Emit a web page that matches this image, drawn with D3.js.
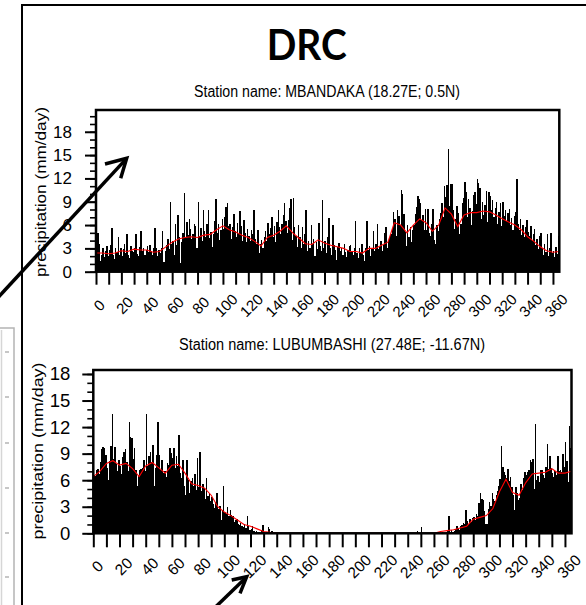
<!DOCTYPE html>
<html>
<head>
<meta charset="utf-8">
<script src="https://cdn.jsdelivr.net/npm/d3@7"></script>
<style>
  html, body { margin: 0; padding: 0; background: #fff; }
  svg { display: block; }
</style>
</head>
<body>
<div id="chart"></div>
<script>
// Daily precipitation (mm/day), one value per day 0..364
const mbandakaRain = [
  3.8, 5.0, 3.5, 1.4, 2.2, 3.0, 1.9, 2.6, 3.3, 2.0,
  2.8, 3.4, 5.6, 2.1, 1.6, 3.0, 2.5, 4.4, 2.2, 3.1,
  2.0, 2.9, 3.6, 2.4, 4.9, 2.2, 1.8, 3.3, 2.7, 2.5,
  3.1, 4.8, 2.3, 2.0, 3.2, 5.2, 2.6, 3.0, 2.2, 2.8,
  3.3, 2.5, 3.4, 2.6, 2.2, 3.0, 5.6, 3.1, 2.0, 2.8,
  2.4, 3.1, 5.2, 1.2, 2.6, 3.4, 4.2, 2.9, 9.0, 3.6,
  4.0, 2.2, 6.1, 3.4, 7.3, 4.4, 1.1, 3.8, 5.0, 10.1,
  4.5, 6.4, 4.7, 6.8, 5.5, 4.2, 4.8, 6.1, 5.9, 3.0,
  9.0, 4.6, 5.6, 4.0, 8.0, 5.2, 4.4, 6.2, 8.0, 4.3,
  5.1, 3.2, 4.8, 6.5, 9.3, 5.0, 6.2, 4.1, 5.4, 6.8,
  5.5, 7.0, 8.3, 8.8, 5.9, 6.1, 4.2, 5.7, 7.4, 5.2,
  4.5, 6.3, 4.8, 7.8, 5.9, 4.0, 6.6, 5.0, 3.8, 5.5,
  4.6, 3.9, 5.4, 4.9, 8.0, 4.2, 3.6, 5.3, 2.4, 3.5,
  4.1, 3.0, 4.5, 5.2, 3.9, 6.3, 4.8, 5.6, 7.1, 4.4,
  5.9, 3.8, 6.4, 8.0, 5.7, 4.9, 6.1, 7.3, 8.9, 6.5,
  5.0, 6.6, 8.2, 9.4, 4.1, 9.5, 5.8, 4.6, 3.2, 6.0,
  4.4, 3.0, 5.7, 3.6, 4.8, 8.0, 2.7, 4.0, 3.1, 6.0,
  3.5, 4.2, 2.0, 3.8, 2.9, 6.3, 3.3, 2.6, 9.2, 3.0,
  3.9, 2.4, 4.5, 6.9, 3.1, 2.2, 6.0, 3.4, 2.8, 1.5,
  3.2, 3.7, 2.6, 3.0, 2.2, 3.6, 2.5, 1.9, 2.8, 3.3,
  3.4, 2.7, 2.1, 3.0, 6.5, 2.4, 1.8, 3.1, 2.5, 3.5,
  2.2, 1.4, 3.0, 6.5, 2.8, 3.3, 2.0, 2.9, 5.2, 2.6,
  3.6, 6.1, 2.9, 3.2, 4.0, 2.7, 3.4, 5.0, 5.7, 3.1,
  4.0, 4.5, 4.9, 5.6, 7.7, 6.8, 4.6, 8.0, 7.2, 6.0,
  10.5, 10.0, 7.4, 5.1, 3.3, 6.0, 4.4, 5.8, 3.8, 5.4,
  6.0, 7.4, 8.3, 9.7, 9.4, 8.9, 6.6, 7.3, 5.4, 8.1,
  5.3, 8.1, 5.0, 4.6, 6.1, 8.1, 4.1, 3.6, 6.0, 5.2,
  6.8, 7.5, 8.8, 7.0, 11.0, 9.6, 11.2, 15.8, 8.5, 11.3,
  11.3, 8.0, 5.5, 6.8, 8.5, 7.6, 4.9, 6.2, 8.8, 9.5,
  11.6, 10.2, 7.1, 9.4, 8.2, 6.0, 7.8, 9.9, 10.3, 8.7,
  11.9, 11.4, 10.8, 6.8, 9.0, 7.3, 8.6, 10.4, 6.4, 10.3,
  9.8, 8.0, 9.2, 7.0, 8.2, 9.0, 6.1, 7.7, 8.9, 5.9,
  9.0, 7.2, 8.0, 6.5, 7.5, 8.1, 6.0, 6.9, 5.3, 7.2,
  7.7, 11.9, 6.2, 5.4, 6.8, 4.7, 6.0, 4.4, 5.8, 6.7,
  5.1, 4.6, 5.9, 3.9, 4.8, 5.5, 3.4, 4.2, 2.9, 4.6,
  5.0, 3.0, 2.2, 3.6, 2.5, 4.9, 2.0, 3.1, 5.0, 2.4,
  2.6, 1.9, 3.2, 2.3, 4.6
];

const lubumbashiRain = [
  6.6, 6.5, 7.1, 7.3, 6.7, 8.0, 9.5, 9.7, 9.6, 8.8,
  7.4, 6.0, 8.2, 9.9, 13.5, 8.4, 9.8, 7.8, 7.0, 8.3,
  7.6, 6.7, 8.6, 9.2, 9.5, 8.1, 7.0, 12.6, 10.9, 10.8,
  8.4, 9.6, 7.2, 5.3, 6.6, 7.1, 7.3, 7.4, 8.3, 7.0,
  13.5, 7.6, 8.7, 9.2, 8.0, 10.0, 5.3, 7.4, 8.8, 12.6,
  8.8, 7.2, 8.3, 6.8, 7.0, 6.4, 7.9, 7.7, 9.6, 9.1,
  8.5, 9.6, 7.4, 8.7, 7.6, 11.1, 6.8, 6.3, 8.3, 5.4,
  4.3, 8.3, 6.0, 4.5, 5.9, 6.2, 5.3, 6.7, 4.9, 8.5,
  5.2, 9.2, 4.8, 5.6, 5.1, 3.9, 6.2, 4.2, 4.5, 3.6,
  4.1, 3.3, 2.9, 3.5, 4.6, 2.8, 3.1, 1.5, 2.6, 5.4,
  2.4, 2.2, 3.0, 1.9, 2.6, 2.1, 2.0, 1.3, 1.5, 1.6,
  1.1, 0.9, 1.2, 0.8, 0.7, 1.0, 0.6, 2.0, 0.8, 0.4,
  0.5, 0.8, 0.3, 0.2, 0.3, 0.2, 0.1, 0, 0.4, 0.9,
  0.2, 0, 0.1, 0.7, 0.5, 0.2, 0.3, 0, 0, 0,
  0, 0, 0, 0, 0, 0, 0, 0, 0, 0,
  0, 0, 0, 0, 0, 0, 0, 0, 0, 0,
  0, 0, 0, 0, 0, 0, 0, 0, 0, 0,
  0, 0, 0, 0, 0, 0, 0, 0, 0, 0,
  0, 0, 0, 0, 0, 0, 0, 0, 0, 0,
  0, 0, 0, 0, 0, 0, 0, 0, 0, 0,
  0, 0, 0, 0, 0, 0, 0, 0, 0, 0,
  0, 0, 0, 0, 0, 0, 0, 0, 0, 0,
  0, 0, 0, 0, 0, 0, 0, 0, 0, 0,
  0, 0, 0, 0, 0, 0, 0, 0, 0, 0,
  0, 0, 0, 0, 0, 0, 0, 0.3, 0, 0,
  0.7, 0, 0, 0, 0, 0, 0, 0, 0, 0,
  0, 0, 0, 0.1, 0, 0, 0.2, 0, 0, 0.1,
  0.3, 2.0, 0.2, 0.4, 0.1, 0.3, 0.5, 0.8, 0.6, 0.4,
  0.8, 0.9, 1.2, 1.0, 2.6, 1.4, 1.1, 1.6, 1.3, 1.7,
  1.8, 1.5, 2.2, 2.0, 3.4, 4.5, 3.9, 3.8, 2.5, 1.0,
  1.0, 2.8, 3.5, 3.1, 4.5, 3.9, 3.6, 4.3, 4.8, 5.3,
  6.1, 9.9, 7.5, 6.9, 6.6, 6.3, 7.3, 5.9, 6.4, 5.2,
  4.3, 2.6, 5.2, 4.6, 3.8, 4.0, 5.6, 4.9, 6.3, 6.9,
  6.6, 6.9, 7.1, 8.3, 8.1, 8.4, 5.0, 12.4, 6.0, 6.5,
  5.8, 7.2, 7.1, 6.6, 6.2, 7.5, 10.1, 7.3, 8.7, 7.4,
  6.8, 6.4, 7.0, 6.6, 8.7, 7.0, 7.2, 6.9, 9.0, 7.5,
  10.3, 8.2, 5.8, 12.1, 9.6
];

// red smoothed climatology, sampled every 5 days (day 0, 5, ..., 365)
const meanDays = d3.range(0, 366, 5);
const mbandakaMean = [
  2.4, 2.4, 2.3, 2.4, 2.7, 2.6, 2.9, 2.8, 2.8, 2.5,
  2.6, 3.2, 3.8, 4.2, 4.4, 4.5, 4.4, 4.7, 4.8, 5.4,
  5.9, 5.4, 5.1, 4.7, 4.4, 3.9, 3.3, 4.4, 4.7, 5.2,
  5.9, 5.0, 4.3, 3.6, 3.5, 4.1, 3.7, 3.4, 3.2, 3.0,
  2.6, 2.6, 2.4, 3.0, 3.0, 3.4, 3.8, 6.3, 6.0, 5.0,
  6.0, 6.8, 6.3, 5.2, 6.0, 8.2, 7.4, 5.8, 7.3, 7.6,
  7.6, 7.8, 7.7, 7.3, 6.8, 6.4, 6.0, 5.4, 4.5, 3.9,
  3.2, 2.7, 2.5, 2.6
];
const lubumbashiMean = [
  6.4, 7.0, 7.9, 8.2, 7.7, 7.9, 7.3, 6.4, 7.6, 8.0,
  7.4, 6.8, 7.7, 7.8, 6.8, 5.6, 5.4, 5.1, 4.3, 3.0,
  2.4, 2.0, 1.5, 1.0, 0.8, 0.5, 0.2, 0.1, 0.05, 0,
  0, 0, 0, 0, 0, 0, 0, 0, 0, 0,
  0, 0, 0, 0, 0, 0, 0, 0, 0, 0,
  0, 0, 0, 0.2, 0.3, 0.4, 0.6, 0.8, 1.6, 1.8,
  2.0, 2.8, 4.7, 6.1, 4.6, 4.3, 5.7, 6.7, 6.8, 6.9,
  7.3, 6.8, 6.8, 7.0
];

const chartTitle = "DRC";
const stationNames = [
  "Station name: MBANDAKA (18.27E; 0.5N)",
  "Station name: LUBUMBASHI (27.48E; -11.67N)"
];
const yAxisLabel = "precipitation (mm/day)";
const yTickValues = [0, 3, 6, 9, 12, 15, 18];
const xTickLabels = ["0", "20", "40", "60", "80", "100", "120", "140", "160", "180",
  "200", "220", "240", "260", "280", "300", "320", "340", "360"];

const FONT = "'Liberation Sans', Arial, Helvetica, sans-serif";
const W = 586, H = 605;

// panel geometry (the two panels were pasted at slightly different scales)
const panels = [
  { rain: mbandakaRain, mean: mbandakaMean, name: stationNames[0],
    left: 96, right: 559.3, top: 110, bottom: 271.7, yMax: 20.8, minorMax: 20,
    subX: 327, subY: 96.5, subLen: 266, ylabX: 41, ylabY: 192, ylabLen: 170,
    yFont: 17, yPad: 13, xFont: 15, xTick: 13, xLabDx: 3, xLabDy: 33.5 },
  { rain: lubumbashiRain, mean: lubumbashiMean, name: stationNames[1],
    left: 93.3, right: 571.5, top: 370, bottom: 533.3, yMax: 18.45, minorMax: 18,
    subX: 332, subY: 350, subLen: 306, ylabX: 37.5, ylabY: 451, ylabLen: 177,
    yFont: 18.5, yPad: 12, xFont: 15.5, xTick: 14, xLabDx: 4, xLabDy: 33 }
];

const svg = d3.select("#chart").append("svg")
  .attr("width", W).attr("height", H)
  .style("background", "#fff");

// cropped neighbouring figure at the far left
const frag = svg.append("g").attr("stroke", "#b4b4b4").attr("fill", "none").attr("stroke-width", 1.5);
frag.append("path").attr("d", "M0,328 H14 V610");
frag.append("path").attr("d", "M1.5,330 V610").attr("stroke", "#d6d6d6");
[352, 397, 443, 488, 533, 577].forEach(ty => {
  frag.append("line").attr("x1", 5).attr("x2", 9).attr("y1", ty).attr("y2", ty);
});

// outer slide box
svg.append("path")
  .attr("d", "M22,610 V5 H600")
  .attr("fill", "none").attr("stroke", "#000").attr("stroke-width", 2);

// title
svg.append("text")
  .attr("x", 306.7).attr("y", 60)
  .attr("text-anchor", "middle")
  .attr("font-family", "Lato, 'Open Sans', sans-serif")
  .attr("font-weight", 700)
  .attr("font-size", 42)
  .attr("textLength", 80).attr("lengthAdjust", "spacingAndGlyphs")
  .attr("fill", "#000")
  .text(chartTitle);

panels.forEach(cfg => {
  const g = svg.append("g");
  const x = d3.scaleLinear().domain([0, 365]).range([cfg.left, cfg.right]);
  const y = d3.scaleLinear().domain([0, cfg.yMax]).range([cfg.bottom, cfg.top]);

  // daily bars
  g.append("g").selectAll("rect")
    .data(cfg.rain)
    .join("rect")
    .attr("x", (d, i) => x(i))
    .attr("width", (d, i) => x(i + 1) - x(i) + 0.15)
    .attr("y", d => y(d))
    .attr("height", d => y(0) - y(d))
    .attr("fill", "#000")
    .attr("shape-rendering", "crispEdges");

  // smoothed mean
  const line = d3.line()
    .x((d, i) => x(meanDays[i]))
    .y(d => y(d));
  g.append("path")
    .datum(cfg.mean)
    .attr("d", line)
    .attr("fill", "none")
    .attr("stroke", "#ff0000")
    .attr("stroke-width", 1.1);

  // plot frame
  g.append("rect")
    .attr("x", cfg.left).attr("y", cfg.top)
    .attr("width", cfg.right - cfg.left)
    .attr("height", cfg.bottom - cfg.top)
    .attr("fill", "none").attr("stroke", "#000").attr("stroke-width", 2.5);

  // y axis, major + minor
  g.append("g")
    .attr("transform", `translate(${cfg.left},0)`)
    .call(d3.axisLeft(y).tickValues(d3.range(0, cfg.minorMax + 1)).tickSize(6).tickFormat(""))
    .call(a => a.select(".domain").remove())
    .call(a => a.selectAll("line").attr("stroke-width", 1.6));

  g.append("g")
    .attr("transform", `translate(${cfg.left},0)`)
    .call(d3.axisLeft(y).tickValues(yTickValues).tickSize(11).tickPadding(cfg.yPad))
    .call(a => a.select(".domain").remove())
    .call(a => a.selectAll("line").attr("stroke-width", 2))
    .call(a => a.selectAll("text")
      .attr("font-family", FONT).attr("font-size", cfg.yFont).attr("fill", "#000"));

  // x axis ticks every 10 days
  g.append("g")
    .attr("transform", `translate(0,${cfg.bottom})`)
    .call(d3.axisBottom(x).tickValues(d3.range(0, 361, 10)).tickSize(cfg.xTick).tickFormat(""))
    .call(a => a.select(".domain").remove())
    .call(a => a.selectAll("line").attr("stroke-width", 2));

  // rotated x labels every 20 days
  g.append("g").selectAll("text")
    .data(xTickLabels)
    .join("text")
    .attr("transform", d => `translate(${x(+d) + cfg.xLabDx},${cfg.bottom + cfg.xLabDy}) rotate(-45)`)
    .attr("text-anchor", "middle")
    .attr("dominant-baseline", "central")
    .attr("font-family", FONT)
    .attr("font-size", cfg.xFont)
    .attr("fill", "#000")
    .text(d => d);

  // station subtitle
  g.append("text")
    .attr("x", cfg.subX).attr("y", cfg.subY)
    .attr("text-anchor", "middle")
    .attr("font-family", FONT).attr("font-size", 16)
    .attr("textLength", cfg.subLen).attr("lengthAdjust", "spacingAndGlyphs")
    .attr("fill", "#000")
    .text(cfg.name);

  // y label
  g.append("text")
    .attr("transform", `translate(${cfg.ylabX},${cfg.ylabY}) rotate(-90)`)
    .attr("text-anchor", "middle")
    .attr("dominant-baseline", "central")
    .attr("font-family", FONT).attr("font-size", 14)
    .attr("textLength", cfg.ylabLen).attr("lengthAdjust", "spacingAndGlyphs")
    .attr("fill", "#000")
    .text(yAxisLabel);
});

// annotation arrows
const arrows = svg.append("g")
  .attr("fill", "none").attr("stroke", "#000")
  .attr("stroke-width", 3.5).attr("stroke-linejoin", "miter");
arrows.append("path").attr("d", "M-8,304 L125.5,159.6");
arrows.append("path").attr("d", "M105,164 L126.7,158.3 L120.7,178.3");
arrows.append("path").attr("d", "M200,622 L245.8,577.8");
arrows.append("path").attr("d", "M231.7,580 L246.7,576.7 L240,593.3");
</script>
</body>
</html>
